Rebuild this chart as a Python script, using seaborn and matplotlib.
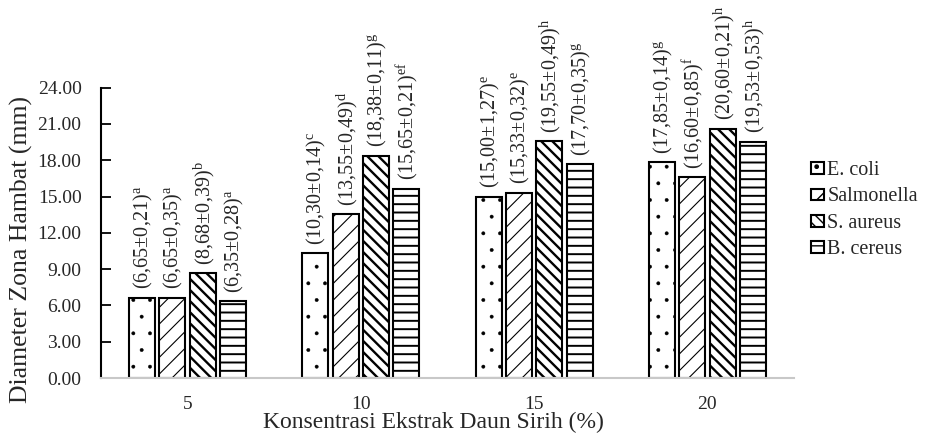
import pandas as pd
import matplotlib
matplotlib.use("Agg")
import matplotlib.pyplot as plt
import seaborn as sns

# concentrations (%) and bacteria
konsentrasi = ["5", "10", "15", "20"]
bakteri = ["E. coli", "Salmonella", "S. aureus", "B. cereus"]

# mean inhibition zone diameter (mm), standard deviation and notation letters
e_coli = [6.65, 10.30, 15.00, 17.85]
e_coli_sd = [0.21, 0.14, 1.27, 0.14]
e_coli_notasi = ["a", "c", "e", "g"]

salmonella = [6.65, 13.55, 15.33, 16.60]
salmonella_sd = [0.35, 0.49, 0.32, 0.85]
salmonella_notasi = ["a", "d", "e", "f"]

s_aureus = [8.68, 18.38, 19.55, 20.60]
s_aureus_sd = [0.39, 0.11, 0.49, 0.21]
s_aureus_notasi = ["b", "g", "h", "h"]

b_cereus = [6.35, 15.65, 17.70, 19.53]
b_cereus_sd = [0.28, 0.21, 0.35, 0.53]
b_cereus_notasi = ["a", "ef", "g", "h"]

nilai = [e_coli, salmonella, s_aureus, b_cereus]
sd = [e_coli_sd, salmonella_sd, s_aureus_sd, b_cereus_sd]
notasi = [e_coli_notasi, salmonella_notasi, s_aureus_notasi, b_cereus_notasi]

rows = []
for b, vals, sds, nots in zip(bakteri, nilai, sd, notasi):
    for k, v, s, n in zip(konsentrasi, vals, sds, nots):
        rows.append({"konsentrasi": k, "bakteri": b, "diameter": v, "sd": s, "notasi": n})
df = pd.DataFrame(rows)

sns.set_theme(style="white")
plt.rcParams["font.family"] = ["Liberation Serif", "DejaVu Serif"]
plt.rcParams["mathtext.fontset"] = "custom"
plt.rcParams["mathtext.rm"] = "Liberation Serif"
plt.rcParams["mathtext.it"] = "Liberation Serif:italic"

fig = plt.figure(figsize=(9.29, 4.37), dpi=100)
ax = fig.add_axes([0.1087, 0.135, 0.746, 0.6645])

sns.barplot(
    data=df, x="konsentrasi", y="diameter", hue="bakteri",
    order=konsentrasi, hue_order=bakteri,
    width=0.7, gap=0.14, errorbar=None, legend=False,
    color="white", ax=ax,
)

hatches = [".", "//", "\\\\\\", "--"]
hatch_lw = [0.3, 0.8, 1.7, 1.4]
for cont, h, hlw, b in zip(ax.containers, hatches, hatch_lw, bakteri):
    sub = df[df["bakteri"] == b].set_index("konsentrasi").loc[konsentrasi]
    for bar, (_, r) in zip(cont.patches, sub.iterrows()):
        bar.set_facecolor("white")
        bar.set_edgecolor("black")
        bar.set_linewidth(1.5)
        bar.set_hatch(h)
        if hasattr(bar, "set_hatch_linewidth"):
            bar.set_hatch_linewidth(hlw)
        teks = "({}±{})$^{{\\mathrm{{{}}}}}$".format(
            f"{r['diameter']:.2f}".replace(".", ","),
            f"{r['sd']:.2f}".replace(".", ","),
            r["notasi"],
        )
        ax.annotate(
            teks, (bar.get_x() + bar.get_width() / 2, bar.get_height()),
            xytext=(1, 6), textcoords="offset points",
            rotation=90, ha="center", va="bottom", fontsize=14.5,
        )

ax.set_xlim(-0.5, 3.5)
ax.set_ylim(0, 24)
ax.set_yticks(range(0, 25, 3))
ax.set_yticklabels([f"{t:.2f}" for t in range(0, 25, 3)])
ax.tick_params(axis="y", direction="in", length=7, width=1.3, color="black",
               left=True, labelsize=14, pad=14)
ax.tick_params(axis="x", length=0, labelsize=14, pad=13)

for s in ["top", "right"]:
    ax.spines[s].set_visible(False)
ax.spines["left"].set_color("black")
ax.spines["left"].set_linewidth(1.5)
ax.spines["bottom"].set_color("#c8c8c8")
ax.spines["bottom"].set_linewidth(1.5)

ax.set_xlabel("Konsentrasi Ekstrak Daun Sirih (%)", fontsize=17)
ax.xaxis.set_label_coords(0.48, -0.118)
ax.set_ylabel("Diameter Zona Hambat (mm)", fontsize=18.5)
ax.yaxis.set_label_coords(-0.098, 0.444)

ax.legend(
    ax.containers, bakteri, loc="center left",
    bbox_to_anchor=(0.873, 0.519), bbox_transform=fig.transFigure,
    frameon=False, fontsize=14.5, handlelength=0.65, handleheight=0.5,
    handletextpad=0.15, labelspacing=0.37, borderpad=0, borderaxespad=0,
)

fig.savefig("out.png", dpi=100)
